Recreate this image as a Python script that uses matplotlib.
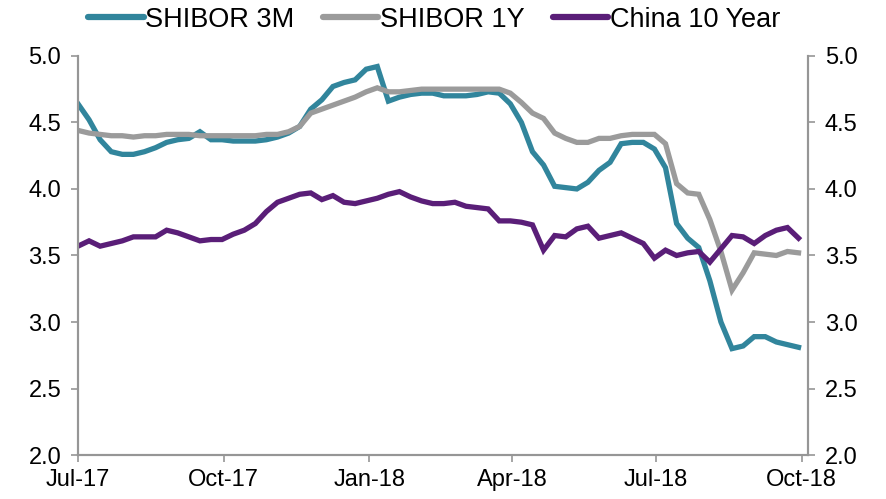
import numpy as np
import pandas as pd
import matplotlib
matplotlib.use("Agg")
import matplotlib.pyplot as plt
import matplotlib.dates as mdates

plt.rcParams['font.family'] = ['Liberation Sans', 'DejaVu Sans']

# weekly observations, Jul-2017 to end Sep-2018
dates = pd.date_range("2017-07-01", periods=66, freq="7D")

shibor_3m = [4.64, 4.52, 4.37, 4.28, 4.26, 4.26, 4.28, 4.31, 4.35, 4.37,
             4.38, 4.43, 4.37, 4.37, 4.36, 4.36, 4.36, 4.37, 4.39, 4.42,
             4.47, 4.60, 4.67, 4.77, 4.80, 4.82, 4.90, 4.92, 4.66, 4.69,
             4.71, 4.72, 4.72, 4.70, 4.70, 4.70, 4.71, 4.73, 4.72, 4.64,
             4.50, 4.28, 4.18, 4.02, 4.01, 4.00, 4.05, 4.14, 4.20, 4.34,
             4.35, 4.35, 4.30, 4.16, 3.74, 3.63, 3.56, 3.31, 3.00, 2.80,
             2.82, 2.89, 2.89, 2.85, 2.83, 2.81]

shibor_1y = [4.44, 4.42, 4.41, 4.40, 4.40, 4.39, 4.40, 4.40, 4.41, 4.41,
             4.41, 4.40, 4.40, 4.40, 4.40, 4.40, 4.40, 4.41, 4.41, 4.43,
             4.47, 4.57, 4.60, 4.63, 4.66, 4.69, 4.73, 4.76, 4.73, 4.73,
             4.74, 4.75, 4.75, 4.75, 4.75, 4.75, 4.75, 4.75, 4.75, 4.72,
             4.65, 4.57, 4.53, 4.42, 4.38, 4.35, 4.35, 4.38, 4.38, 4.40,
             4.41, 4.41, 4.41, 4.34, 4.04, 3.97, 3.96, 3.77, 3.53, 3.24,
             3.37, 3.52, 3.51, 3.50, 3.53, 3.52]

china_10y = [3.57, 3.61, 3.57, 3.59, 3.61, 3.64, 3.64, 3.64, 3.69, 3.67,
             3.64, 3.61, 3.62, 3.62, 3.66, 3.69, 3.74, 3.83, 3.90, 3.93,
             3.96, 3.97, 3.92, 3.95, 3.90, 3.89, 3.91, 3.93, 3.96, 3.98,
             3.94, 3.91, 3.89, 3.89, 3.90, 3.87, 3.86, 3.85, 3.76, 3.76,
             3.75, 3.73, 3.54, 3.65, 3.64, 3.70, 3.72, 3.63, 3.65, 3.67,
             3.63, 3.59, 3.48, 3.54, 3.50, 3.52, 3.53, 3.45, 3.55, 3.65,
             3.64, 3.59, 3.65, 3.69, 3.71, 3.63]

tick_dates = pd.to_datetime(["2017-07-01", "2017-10-01", "2018-01-01",
                             "2018-04-01", "2018-07-01", "2018-10-01"])
yticks = [2.0, 2.5, 3.0, 3.5, 4.0, 4.5, 5.0]

axis_grey = "#969696"

fig = plt.figure(figsize=(8.86, 4.99), dpi=100)
ax = fig.add_axes([0.088, 0.088, 0.824, 0.800])

lw = 3.8
ax.plot(dates, shibor_3m, color="#31859C", lw=lw, label="SHIBOR 3M", solid_joinstyle="miter")
ax.plot(dates, shibor_1y, color="#9B9B9B", lw=lw, label="SHIBOR 1Y", solid_joinstyle="miter")
ax.plot(dates, china_10y, color="#5A1E78", lw=lw, label="China 10 Year", solid_joinstyle="miter")

ax.set_xlim(pd.Timestamp("2017-07-01"), pd.Timestamp("2018-10-05"))
ax.set_ylim(2.0, 5.0)
ax.set_xticks(tick_dates)
ax.xaxis.set_major_formatter(mdates.DateFormatter("%b-%y"))
ax.set_yticks(yticks)
ax.yaxis.set_major_formatter(matplotlib.ticker.FormatStrFormatter("%.1f"))

ax2 = ax.twinx()
ax2.set_ylim(2.0, 5.0)
ax2.set_yticks(yticks)
ax2.yaxis.set_major_formatter(matplotlib.ticker.FormatStrFormatter("%.1f"))

for a in (ax, ax2):
    a.spines["top"].set_visible(False)
    for s in ("left", "right", "bottom"):
        a.spines[s].set_color(axis_grey)
        a.spines[s].set_linewidth(1.5)
    a.tick_params(axis="both", colors=axis_grey, labelcolor="black",
                  labelsize=17, length=5, width=1.2, direction="out")
ax.tick_params(axis="y", pad=7)
ax2.tick_params(axis="y", pad=7)
ax.tick_params(axis="x", pad=5)

leg = fig.legend(loc="upper center", bbox_to_anchor=(0.49, 1.035), ncol=3,
                 frameon=False, fontsize=19.5, handlelength=2.05,
                 handletextpad=0.05, columnspacing=1.05)
for line in leg.get_lines():
    line.set_linewidth(4.5)
    line.set_solid_capstyle("round")

fig.savefig("out.png", dpi=100)
